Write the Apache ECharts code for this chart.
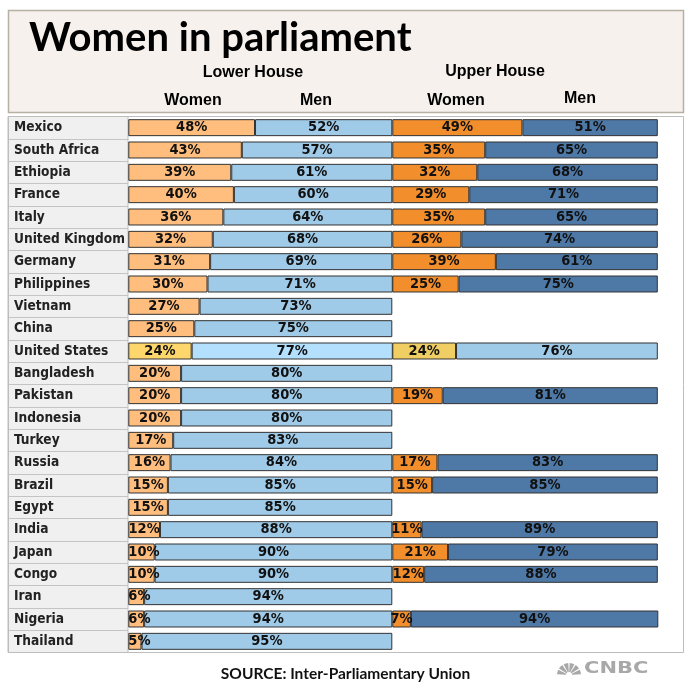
<!DOCTYPE html>
<html><head><meta charset="utf-8">
<script src="https://cdn.jsdelivr.net/npm/echarts@6/dist/echarts.min.js"></script>
<style>html,body{margin:0;padding:0;background:#fff}#c{width:688px;height:686px}</style>
</head><body><div id="c"></div>
<script>
const countries = ['Mexico','South Africa','Ethiopia','France','Italy','United Kingdom','Germany','Philippines','Vietnam','China','United States','Bangladesh','Pakistan','Indonesia','Turkey','Russia','Brazil','Egypt','India','Japan','Congo','Iran','Nigeria','Thailand'];
const lowerWomen = [48,43,39,40,36,32,31,30,27,25,24,20,20,20,17,16,15,15,12,10,10,6,6,5];
const lowerMen   = [52,57,61,60,64,68,69,71,73,75,77,80,80,80,83,84,85,85,88,90,90,94,94,95];
const upperWomen = [49,35,32,29,35,26,39,25,null,null,24,null,19,null,null,17,15,null,11,21,12,null,7,null];
const upperMen   = [51,65,68,71,65,74,61,75,null,null,76,null,81,null,null,83,85,null,89,79,88,null,94,null];
const highlight = 'United States';
const titleText = 'Women in parliament';
const houseLabels = ['Lower House','Upper House'];
const genderLabels = ['Women','Men'];
const sourceText = 'SOURCE: Inter-Parliamentary Union';
const logoText = 'CNBC';

const labelFont = '"DejaVu Sans Condensed","DejaVu Sans",sans-serif';
const headFont = '"Liberation Sans",Arial,sans-serif';

function mk(name, values, idx, stack, color, hiColor, smallLeft) {
  return {
    type: 'bar', name, xAxisIndex: idx, yAxisIndex: idx, stack,
    barCategoryGap: '24%', silent: true,
    data: values.map((v, i) => {
      if (v == null) return null;
      const item = { value: v, itemStyle: { color: countries[i] === highlight ? hiColor : color } };
      if (smallLeft && v < 12) item.label = { position: 'insideLeft', distance: 0 };
      return item;
    }),
    itemStyle: { borderColor: '#333', borderWidth: 1 },
    label: { show: true, position: 'inside', formatter: '{c}%', fontFamily: labelFont, fontWeight: 'bold', fontSize: 14.5, color: '#111' },
    emphasis: { disabled: true }
  };
}

const chart = echarts.init(document.getElementById('c'), null, { renderer: 'canvas' });
const gridTop = 116.5, gridBottom = 33.5;
const catAxis = (idx, show) => ({
  type: 'category', gridIndex: idx, data: countries, inverse: true,
  axisLine: { show: false }, axisTick: { show: false },
  splitLine: { show: show, lineStyle: { color: '#c4c4c4', width: 1 } },
  axisLabel: show ? { show: true, inside: true, margin: 6, fontFamily: labelFont, fontWeight: 'bold', fontSize: 13.6, color: '#222' } : { show: false }
});
const valAxis = (idx) => ({ type: 'value', gridIndex: idx, min: 0, max: 100, show: false });

chart.setOption({
  animation: false,
  grid: [
    { left: 8, width: 120, top: gridTop, bottom: gridBottom, show: true, backgroundColor: '#f0f0f0', borderColor: '#bdbdbd', borderWidth: 1 },
    { left: 128.3, width: 264, top: gridTop, bottom: gridBottom },
    { left: 392.3, width: 265.5, top: gridTop, bottom: gridBottom }
  ],
  xAxis: [valAxis(0), valAxis(1), valAxis(2)],
  yAxis: [catAxis(0, true), catAxis(1, false), catAxis(2, false)],
  series: [
    mk('Lower women', lowerWomen, 1, 'lower', '#ffbe7d', '#fdd76c', true),
    mk('Lower men', lowerMen, 1, 'lower', '#a0cbe8', '#b3e0fd', false),
    mk('Upper women', upperWomen, 2, 'upper', '#f28e2b', '#f1ce63', false),
    mk('Upper men', upperMen, 2, 'upper', '#4e79a7', '#a0cbe8', false)
  ],
  graphic: [
    { type: 'rect', z: -10, shape: { x: 8.5, y: 10.5, width: 675, height: 102 }, style: { fill: '#f6f1ec', stroke: '#b7b0a3', lineWidth: 1.5 } },
    { type: 'text', x: 29, y: 38, style: { text: titleText, font: 'bold 40px Lato, "Open Sans", sans-serif', fill: '#000', verticalAlign: 'middle' } },
    { type: 'text', x: 253, y: 73, style: { text: houseLabels[0], font: 'bold 16px ' + headFont, fill: '#000', align: 'center', verticalAlign: 'middle' } },
    { type: 'text', x: 495, y: 72, style: { text: houseLabels[1], font: 'bold 16px ' + headFont, fill: '#000', align: 'center', verticalAlign: 'middle' } },
    { type: 'text', x: 193, y: 100.5, style: { text: genderLabels[0], font: 'bold 16px ' + headFont, fill: '#000', align: 'center', verticalAlign: 'middle' } },
    { type: 'text', x: 316, y: 100.5, style: { text: genderLabels[1], font: 'bold 16px ' + headFont, fill: '#000', align: 'center', verticalAlign: 'middle' } },
    { type: 'text', x: 456, y: 100.5, style: { text: genderLabels[0], font: 'bold 16px ' + headFont, fill: '#000', align: 'center', verticalAlign: 'middle' } },
    { type: 'text', x: 580, y: 99, style: { text: genderLabels[1], font: 'bold 16px ' + headFont, fill: '#000', align: 'center', verticalAlign: 'middle' } },
    { type: 'rect', z: 100, shape: { x: 8.5, y: 116.5, width: 675, height: 536 }, style: { fill: 'none', stroke: '#bdbdbd', lineWidth: 1 } },
    { type: 'text', x: 345.5, y: 674, style: { text: sourceText, font: 'bold 15.5px Lato, sans-serif', fill: '#111', align: 'center', verticalAlign: 'middle' } },
    { type: 'group', x: 569, y: 675, children: [0,1,2,3,4,5].map(k => ({
      type: 'sector', shape: { cx: 0, cy: 0, r0: 3, r: 12, startAngle: Math.PI + k * Math.PI / 6 + 0.06, endAngle: Math.PI + (k + 1) * Math.PI / 6 - 0.06 },
      style: { fill: '#a8a8a8' }
    })) },
    { type: 'text', x: 584, y: 669.5, scaleX: 1.4, style: { text: logoText, font: 'bold 15px "DejaVu Sans", sans-serif', fill: '#a8a8a8', verticalAlign: 'middle' } }
  ]
});
</script>
</body></html>
